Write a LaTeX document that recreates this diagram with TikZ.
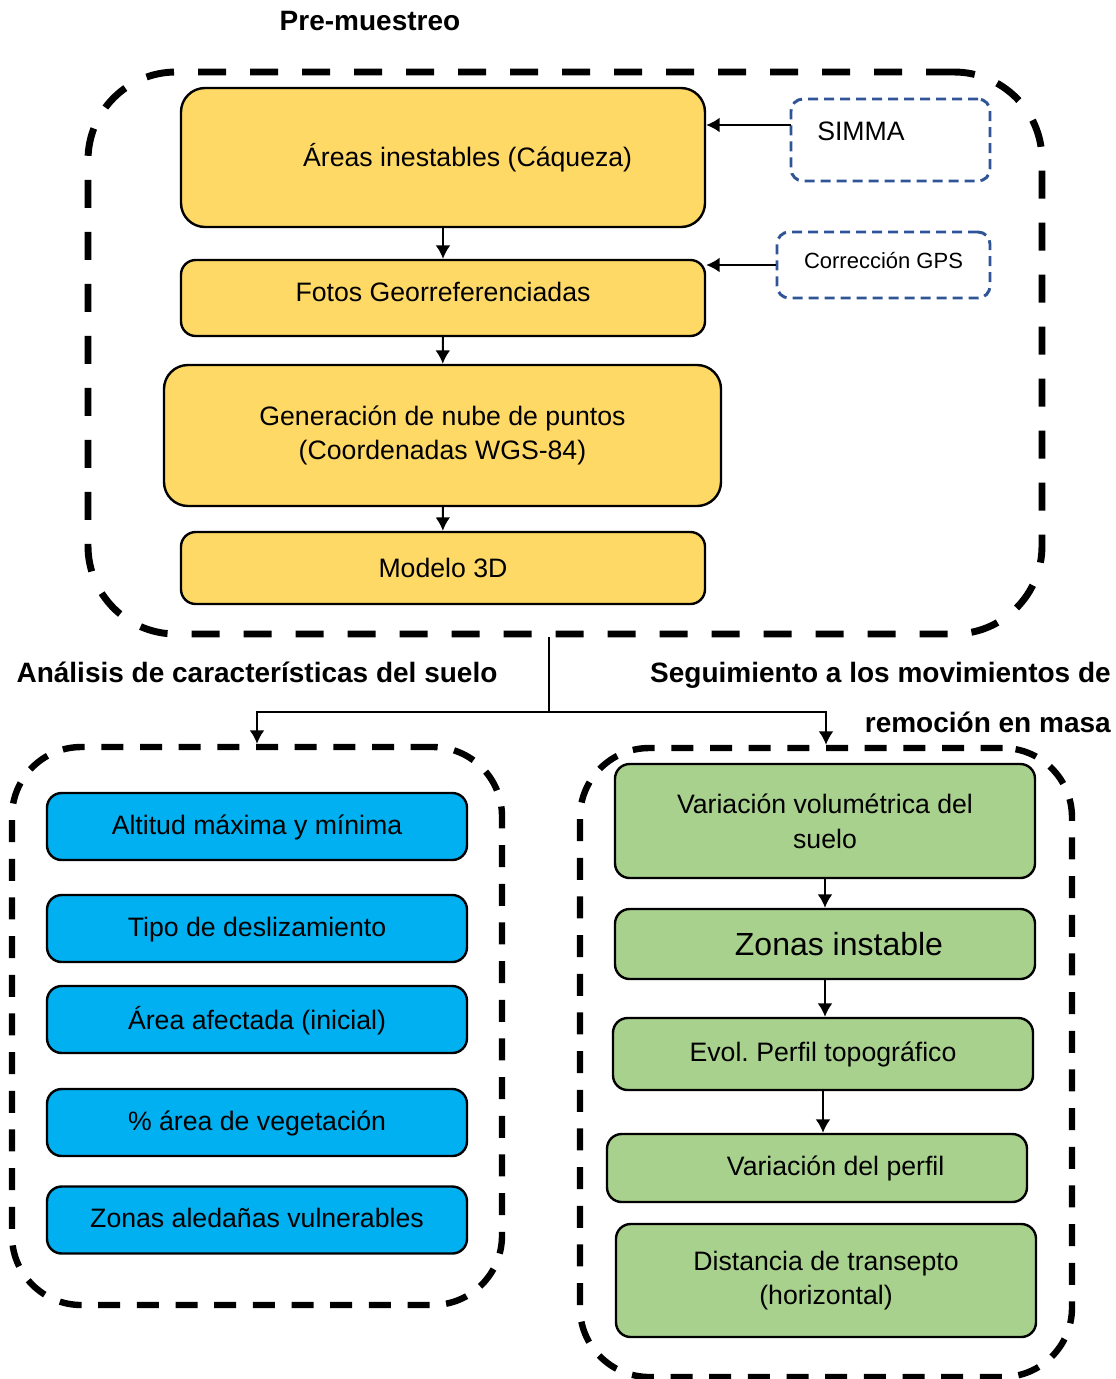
\documentclass[tikz,border=0pt]{standalone}
\usepackage{fontspec}
\setmainfont{Liberation Sans}
\usetikzlibrary{arrows,arrows.meta,shapes,calc,positioning}
\definecolor{amarillo}{HTML}{FFD966}
\definecolor{celeste}{HTML}{00B0F0}
\definecolor{verde}{HTML}{A9D18E}
\definecolor{azulfuente}{HTML}{2F5597}

\begin{document}
\begin{tikzpicture}[x=0.75pt,y=-0.75pt,auto,>={Latex[length=10pt,width=11pt]}]
    \tikzstyle{etapa}=[rectangle, rounded corners=11pt, draw=black, line width=1.8pt, align=center, inner sep=0pt, font=\fontsize{20}{26}\selectfont]
    \tikzstyle{pre}=[etapa, fill=amarillo, minimum width=393pt]
    \tikzstyle{suelo}=[etapa, fill=celeste, minimum width=315pt, minimum height=50.25pt, text depth=3pt]
    \tikzstyle{seguimiento}=[etapa, fill=verde, minimum width=315pt]
    \tikzstyle{fuente}=[rectangle, rounded corners=9pt, draw=azulfuente, line width=2.2pt, dash pattern=on 7.5pt off 4.5pt]
    \tikzstyle{grupo}=[rectangle, draw=black, line width=4.8pt, dash pattern=on 16.5pt off 12.5pt, rounded corners=52pt, inner sep=0pt]
    \tikzstyle{titulo}=[font=\fontsize{21}{24}\selectfont\bfseries, inner sep=0pt]
    \tikzstyle{flecha}=[->, line width=1.5pt]
    \useasboundingbox (0,0) rectangle (1116,1379);

    % pre-muestreo
    \node[titulo] (tpre) at (370,21) {Pre-muestreo};
    \node[grupo, line width=5.2pt, dash pattern=on 21pt off 18pt, rounded corners=66pt, minimum width=715.5pt, minimum height=421.5pt] (grupopre) at (565,353) {};
    \node[pre, minimum height=104.25pt, rounded corners=18pt] (areas) at (443,157.5) {\hspace{37pt}Áreas inestables (Cáqueza)};
    \node[pre, minimum height=57pt, text depth=10pt] (fotos) at (443,298) {Fotos Georreferenciadas};
    \node[pre, minimum width=417.75pt, minimum height=105.75pt, rounded corners=18pt] (nube) at (442.5,435.5) {Generación de nube de puntos\\(Coordenadas WGS-84)};
    \node[pre, minimum height=54pt] (modelo) at (443,568) {Modelo 3D};
    \node[fuente, minimum width=149.25pt, minimum height=61.5pt] (simma) at (890.5,140) {};
    \node[anchor=west, inner sep=0pt, font=\fontsize{20}{24}\selectfont] (tsimma) at (817,131) {SIMMA};
    \node[fuente, minimum width=159.75pt, minimum height=49.5pt, text depth=7pt, font=\fontsize{16.5}{20}\selectfont] (gps) at (883.5,265) {Corrección GPS};
    \coordinate (simmaout) at (791,125);
    \draw[flecha] (simmaout) -- (simmaout -| areas.east);
    \draw[flecha] (gps.west) -- (gps.west -| fotos.east);
    \draw[line width=1.5pt] (areas) edge[->] (fotos);
    \draw[line width=1.5pt] (fotos) edge[->] (nube);
    \draw[line width=1.5pt] (nube) edge[->] (modelo);

    % analisis del suelo
    \node[titulo] (tsuelo) at (257,672) {Análisis de características del suelo};
    \node[grupo, minimum width=367.5pt, minimum height=418.5pt] (gruposuelo) at (257,1026) {};
    \node[suelo] (altitud) at (257,826.5) {Altitud máxima y mínima};
    \node[suelo] (tipo) at (257,928.5) {Tipo de deslizamiento};
    \node[suelo] (afectada) at (257,1019.5) {Área afectada (inicial)};
    \node[suelo] (vegetacion) at (257,1122.5) {\% área de vegetación};
    \node[suelo] (aledanas) at (257,1220) {Zonas aledañas vulnerables};

    % seguimiento
    \node[titulo, anchor=east] (tseg1) at (1111,675) {Seguimiento a los movimientos de};
    \node[titulo, anchor=east] (tseg2) at (1111,722) {remoción en masa};
    \node[grupo, minimum width=369pt, minimum height=471.75pt] (gruposeg) at (826,1062.5) {};
    \node[seguimiento, minimum height=85.5pt] (volumen) at (825,821) {Variación volumétrica del\\suelo};
    \node[seguimiento, minimum height=52.5pt, font=\fontsize{24}{28}\selectfont] (instable) at (825,944) {\hspace{21pt}Zonas instable};
    \node[seguimiento, minimum height=54pt] (evol) at (823,1054) {Evol.\ Perfil topográfico};
    \node[seguimiento, minimum height=51pt] (perfil) at (817,1168) {\hspace{28pt}Variación del perfil};
    \node[seguimiento, minimum height=84.75pt] (transepto) at (826,1280.5) {Distancia de transepto\\(horizontal)};
    \draw[flecha] (volumen.south) -- (volumen.south |- instable.north);
    \draw[flecha] (instable.south) -- (instable.south |- evol.north);
    \draw[flecha] (evol.south) -- (evol.south |- perfil.north);

    % ramas
    \coordinate (rama) at (549,712);
    \draw[line width=1.5pt] (rama |- grupopre.south) -- (rama);
    \draw[flecha] (rama) -| (gruposuelo.north);
    \draw[flecha] (rama) -| (gruposeg.north);
\end{tikzpicture}
\end{document}
